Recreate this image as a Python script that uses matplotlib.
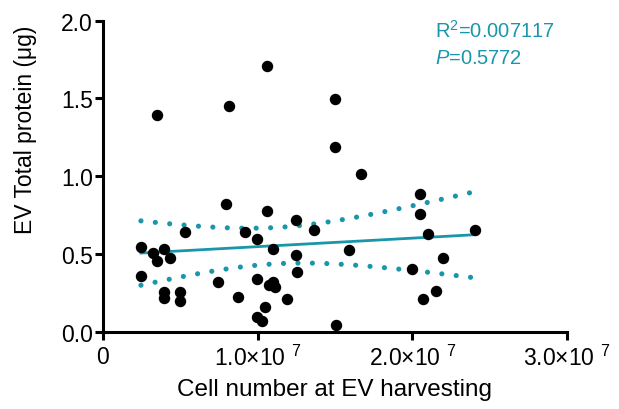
import numpy as np
import matplotlib.pyplot as plt

plt.rcParams['font.family'] = ['Liberation Sans', 'DejaVu Sans']
plt.rcParams['mathtext.fontset'] = 'custom'
plt.rcParams['mathtext.rm'] = 'Liberation Sans'
plt.rcParams['mathtext.it'] = 'Liberation Sans:italic'

# cell number (x 1e7) and EV total protein (ug)
cells_e7 = [0.349, 0.814, 1.059, 1.499, 1.499, 1.669,
            0.797, 1.059, 1.249, 0.530, 0.919, 0.999, 0.247, 0.327, 0.398,
            0.353, 0.437, 1.098, 1.249, 0.247, 1.257, 0.999, 0.745, 1.098,
            1.076, 1.111, 0.398, 0.497, 0.398, 0.497, 0.876, 1.189, 1.048,
            0.999, 1.031,
            1.367, 2.052, 2.052, 2.101, 2.405, 1.589, 2.200, 2.000, 2.151,
            2.069, 1.509]
protein = [1.396, 1.449, 1.708, 1.496, 1.188, 1.013,
           0.823, 0.776, 0.718, 0.639, 0.644, 0.596, 0.547, 0.506, 0.530,
           0.453, 0.474, 0.535, 0.492, 0.359, 0.385, 0.338, 0.319, 0.317,
           0.301, 0.287, 0.256, 0.256, 0.214, 0.197, 0.221, 0.212, 0.156,
           0.096, 0.067,
           0.654, 0.887, 0.754, 0.631, 0.654, 0.526, 0.477, 0.402, 0.261,
           0.212, 0.043]

xtick_vals = [0, 1e7, 2e7, 3e7]
xtick_labels = ['0', '1.0×10 $^{7}$', '2.0×10 $^{7}$', '3.0×10 $^{7}$']
ytick_vals = [0, 0.5, 1.0, 1.5, 2.0]
ytick_labels = ['0.0', '0.5', '1.0', '1.5', '2.0']

r2_text = 'R$^2$=0.007117'
p_text = '$\\it{P}$=0.5772'

teal = '#1a96ab'

x = np.array(cells_e7) * 1e7
y = np.array(protein)

# linear fit with 95% confidence band
n = len(x)
slope, icpt = np.polyfit(x, y, 1)
xs = np.linspace(x.min(), x.max(), 100)
yfit = slope * xs + icpt
resid = y - (slope * x + icpt)
s = np.sqrt(np.sum(resid ** 2) / (n - 2))
tcrit = 2.018
se = s * np.sqrt(1 / n + (xs - x.mean()) ** 2 / np.sum((x - x.mean()) ** 2))

fig = plt.figure(figsize=(6.19, 4.10), dpi=100)
ax = fig.add_axes([0.1659, 0.1885, 0.7503, 0.7585])

ax.plot(xs, yfit, color=teal, lw=2, zorder=2)
dots = (0, (0.01, 2.8))
ax.plot(xs, yfit + tcrit * se, color=teal, lw=3.7, ls=dots,
        dash_capstyle='round', zorder=2)
ax.plot(xs, yfit - tcrit * se, color=teal, lw=3.7, ls=dots,
        dash_capstyle='round', zorder=2)
ax.scatter(x, y, s=52, color='black', zorder=3, clip_on=False)

ax.set_xlim(0, 3e7)
ax.set_ylim(0, 2.0)
ax.set_xticks(xtick_vals)
ax.set_xticklabels(xtick_labels)
ax.set_yticks(ytick_vals)
ax.set_yticklabels(ytick_labels)

for side in ['top', 'right']:
    ax.spines[side].set_visible(False)
for side in ['left', 'bottom']:
    ax.spines[side].set_linewidth(2.2)
ax.tick_params(width=2.2, length=5.5, labelsize=16.5, direction='out')
ax.tick_params(axis='y', pad=1.5)
ax.tick_params(axis='x', pad=4)

ax.set_xlabel('Cell number at EV harvesting', fontsize=17.5)
ax.xaxis.set_label_coords(0.5, -0.184)
ax.xaxis.label.set_va('center')
ax.set_ylabel('EV Total protein (μg)', fontsize=16.5)
ax.yaxis.set_label_coords(-0.167, 0.652)
ax.yaxis.label.set_va('center')

ax.text(435 / 619, 1 - 31 / 410, r2_text, transform=fig.transFigure,
        color=teal, fontsize=14.5, va='center')
ax.text(435 / 619, 1 - 58 / 410, p_text, transform=fig.transFigure,
        color=teal, fontsize=14.5, va='center')

fig.savefig('out.png', dpi=100)
